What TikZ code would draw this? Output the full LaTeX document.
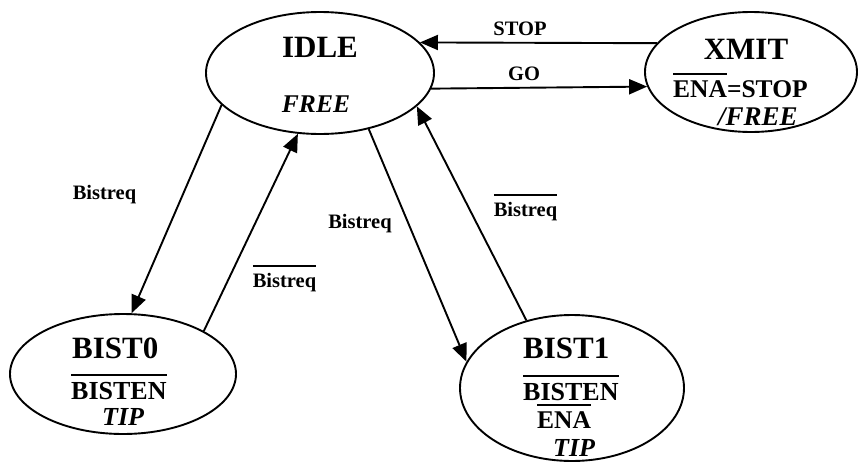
\documentclass[tikz,border=0pt]{standalone}
\usepackage{fontspec}
\setmainfont{Liberation Serif}
\usetikzlibrary{arrows.meta,shapes.geometric}
\newcommand{\ovl}[1]{\vbox{\hrule height 2pt\kern 5.5pt\hbox{#1}}}
\newcommand{\fsz}[1]{\fontsize{#1}{#1}\selectfont}
\tikzset{
  state/.style={draw=black, line width=1.9pt, ellipse, inner sep=0pt},
  arr/.style={line width=1.9pt, -{Triangle[length=18pt,width=15pt]}},
  txt/.style={inner sep=0pt, anchor=base},
  txtl/.style={inner sep=0pt, anchor=base west},
  lab/.style={inner sep=0pt, anchor=base, font=\fsz{20.5}\bfseries},
}
\begin{document}
\begin{tikzpicture}[x=1pt,y=-1pt]
\useasboundingbox (0,0) rectangle (860,461);
% states
\node[state, minimum width=228pt, minimum height=122pt] (idle) at (320,73) {};
\node[state, minimum width=212pt, minimum height=120pt] (xmit) at (751,72) {};
\node[state, minimum width=226pt, minimum height=120pt] (bist0) at (123,374) {};
\node[state, minimum width=224pt, minimum height=146pt] (bist1) at (572,388) {};
% state texts
\node[txt, font=\fsz{31}\bfseries] (idlename) at (320,57) {IDLE};
\node[txt, font=\fsz{25.5}\bfseries\itshape] (idleout) at (316,112) {FREE};
\node[txt, font=\fsz{31}\bfseries] (xmitname) at (746,59) {XMIT};
\node[txtl, font=\fsz{25.5}\bfseries] (xmitout) at (673,97) {\ovl{ENA}=STOP};
\node[txtl, font=\fsz{27}\bfseries\itshape] (xmitfree) at (718,125) {/FREE};
\node[txtl, font=\fsz{31}\bfseries] (b0name) at (72,358) {BIST0};
\node[txtl, font=\fsz{26}\bfseries] (b0out) at (71,399) {\ovl{BISTEN}};
\node[txtl, font=\fsz{26}\bfseries\itshape] (b0tip) at (102,425) {TIP};
\node[txtl, font=\fsz{31}\bfseries] (b1name) at (523,358) {BIST1};
\node[txtl, font=\fsz{26}\bfseries] (b1out) at (523,400) {\ovl{BISTEN}};
\node[txtl, font=\fsz{25.5}\bfseries] (b1ena) at (537,428) {\ovl{ENA}};
\node[txtl, font=\fsz{26}\bfseries\itshape] (b1tip) at (553,456) {TIP};
% transitions
\draw[arr] (xmit.163) -- (idle.17);
\draw[arr] (idle.352.4) -- (xmit.188.5);
\draw[arr] (idle.198) -- (bist0.82);
\draw[arr] (bist0.28) -- (idle.250);
\draw[arr] (idle.311.5) -- (bist1.166);
\draw[arr] (bist1.124) -- (idle.341);
% labels
\node[lab] (lstop) at (520,35) {STOP};
\node[lab] (lgo) at (524,80) {GO};
\node[lab] (lreq0) at (104.5,199) {Bistreq};
\node[lab] (lnreq0) at (284.5,287) {\ovl{Bistreq}};
\node[lab] (lreq1) at (360,228) {Bistreq};
\node[lab] (lnreq1) at (525.5,216) {\ovl{Bistreq}};
\end{tikzpicture}
\end{document}
